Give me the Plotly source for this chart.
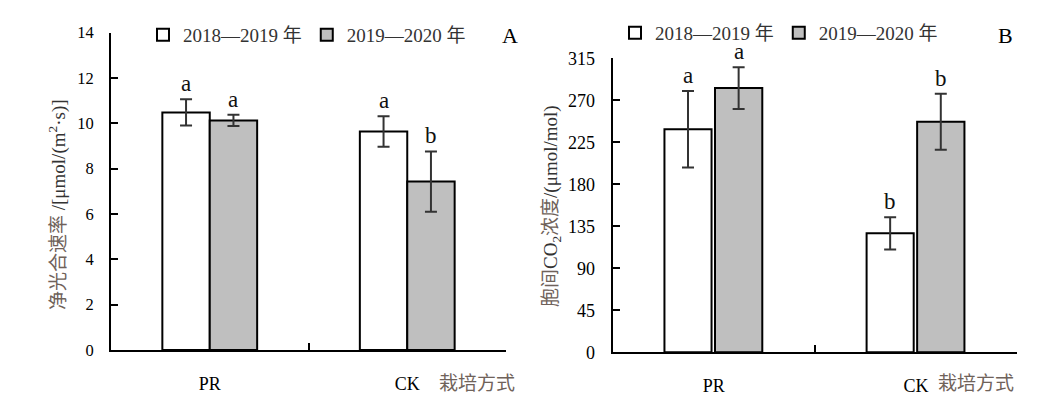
import plotly.graph_objects as go

# ---------------- data ----------------
categories = ["PR", "CK"]
series_names = ["2018—2019 年", "2019—2020 年"]

pn_2018 = [10.48, 9.64]
pn_2018_err = [0.58, 0.67]
pn_2019 = [10.13, 7.43]
pn_2019_err = [0.25, 1.33]
pn_letters_2018 = ["a", "a"]
pn_letters_2019 = ["a", "b"]

ci_2018 = [238.9, 127.5]
ci_2018_err = [41.0, 17.3]
ci_2019 = [283.1, 247.0]
ci_2019_err = [22.3, 30.0]
ci_letters_2018 = ["a", "b"]
ci_letters_2019 = ["a", "b"]

pn_ticks = [0, 2, 4, 6, 8, 10, 12, 14]
ci_ticks = [0, 45, 90, 135, 180, 225, 270, 315]

# ---------------- style ----------------
W, H = 1045, 398
FONT = "Liberation Serif, Noto Sans CJK SC, serif"
CN_COLOR = "#6f625a"
WHITE = "#ffffff"
GRAY = "#bfbfbf"
ERR = "#333333"


def px_x(p):
    return p / W


def px_y(p):
    return (H - p) / H


fig = go.Figure()

barsA = [
    (pn_2018, pn_2018_err, WHITE, series_names[0], -0.24, 0.24, pn_letters_2018),
    (pn_2019, pn_2019_err, GRAY, series_names[1], 0.0, 0.24, pn_letters_2019),
]
barsB = [
    (ci_2018, ci_2018_err, WHITE, series_names[0], -0.244, 0.233, ci_letters_2018),
    (ci_2019, ci_2019_err, GRAY, series_names[1], 0.006, 0.234, ci_letters_2019),
]

annotations = []

for bars, xa, ya, lg in [(barsA, "x", "y", "legend"), (barsB, "x2", "y2", "legend2")]:
    for vals, errs, col, name, off, wid, letters in bars:
        fig.add_trace(go.Bar(
            x=categories, y=vals, name=name,
            width=wid, offset=off,
            marker=dict(color=col, line=dict(color="#000000", width=2)),
            error_y=dict(type="data", array=errs, visible=True,
                         color=ERR, thickness=2, width=6),
            xaxis=xa, yaxis=ya, legend=lg, showlegend=True,
            hoverinfo="skip",
        ))
        for i, (v, e, t) in enumerate(zip(vals, errs, letters)):
            annotations.append(dict(
                x=i + off + wid / 2, y=v + e, xref=xa, yref=ya,
                text=t, showarrow=False, yanchor="bottom", xanchor="center",
                yshift=2, borderpad=0,
                font=dict(family=FONT, size=23, color="#111111"),
            ))

# axis titles
annotations.append(dict(
    x=px_x(58), y=px_y(205), xref="paper", yref="paper", textangle=-90,
    text=f"<span style='color:{CN_COLOR}'>净光合速率</span> /[μmol/(m<sup>2</sup>·s)]",
    showarrow=False, xanchor="center", yanchor="middle",
    font=dict(family=FONT, size=19, color="#333333"),
))
annotations.append(dict(
    x=px_x(552), y=px_y(206), xref="paper", yref="paper", textangle=-90,
    text=f"<span style='color:{CN_COLOR}'>胞间</span>CO<sub>2</sub><span style='color:{CN_COLOR}'>浓度</span>/(μmol/mol)",
    showarrow=False, xanchor="center", yanchor="middle",
    font=dict(family=FONT, size=19, color="#333333"),
))
for xc in (476.5, 975.5):
    annotations.append(dict(
        x=px_x(xc), y=px_y(383), xref="paper", yref="paper",
        text="栽培方式", showarrow=False, xanchor="center", yanchor="middle",
        font=dict(family=FONT, size=19, color=CN_COLOR),
    ))
for lab, xc, yc in (("A", 509.5, 35), ("B", 1005, 36)):
    annotations.append(dict(
        x=px_x(xc), y=px_y(yc), xref="paper", yref="paper",
        text=lab, showarrow=False, xanchor="center", yanchor="middle",
        font=dict(family=FONT, size=22, color="#000000"),
    ))

xcommon = dict(
    type="category", range=[-0.5, 1.5], showline=True, linecolor="#000000",
    linewidth=2, ticks="inside", tickson="boundaries", ticklen=7, tickwidth=2,
    tickcolor="#000000", showgrid=False, zeroline=False,
    tickfont=dict(family=FONT, size=18, color="#000000"), ticklabelstandoff=16,
)
ycommon = dict(
    showline=True, linecolor="#000000", linewidth=2, ticks="inside",
    ticklen=7, tickwidth=2, tickcolor="#000000", showgrid=False, zeroline=False,
    ticklabelstandoff=12,
)

fig.update_layout(
    width=W, height=H,
    margin=dict(l=0, r=0, t=0, b=0, autoexpand=False),
    paper_bgcolor="white", plot_bgcolor="white",
    font=dict(family=FONT, color="#000000"),
    barmode="group",
    xaxis=dict(domain=[px_x(111), px_x(506)], anchor="y", **xcommon),
    yaxis=dict(domain=[px_y(350), px_y(32.7)], anchor="x", range=[0, 14],
               tickvals=pn_ticks, ticktext=[str(t) for t in pn_ticks],
               tickfont=dict(family=FONT, size=16.5, color="#000000"), **ycommon),
    xaxis2=dict(domain=[px_x(612.7), px_x(1017)], anchor="y2", **xcommon),
    yaxis2=dict(domain=[px_y(352.3), px_y(58.3)], anchor="x2", range=[0, 315],
                tickvals=ci_ticks, ticktext=[str(t) for t in ci_ticks],
                tickfont=dict(family=FONT, size=18, color="#000000"), **ycommon),
    legend=dict(orientation="h", x=px_x(143), y=px_y(35), xanchor="left",
                yanchor="middle", bgcolor="rgba(0,0,0,0)",
                font=dict(family=FONT, size=19, color="#333333"),
                tracegroupgap=0, itemwidth=30),
    legend2=dict(orientation="h", x=px_x(615), y=px_y(33), xanchor="left",
                 yanchor="middle", bgcolor="rgba(0,0,0,0)",
                 font=dict(family=FONT, size=19, color="#333333"),
                 tracegroupgap=0, itemwidth=30),
    annotations=annotations,
)

fig.write_html(
    "out.html",
    config={"displayModeBar": False},
    post_script="document.body.style.margin='0';document.body.style.padding='0';",
)
